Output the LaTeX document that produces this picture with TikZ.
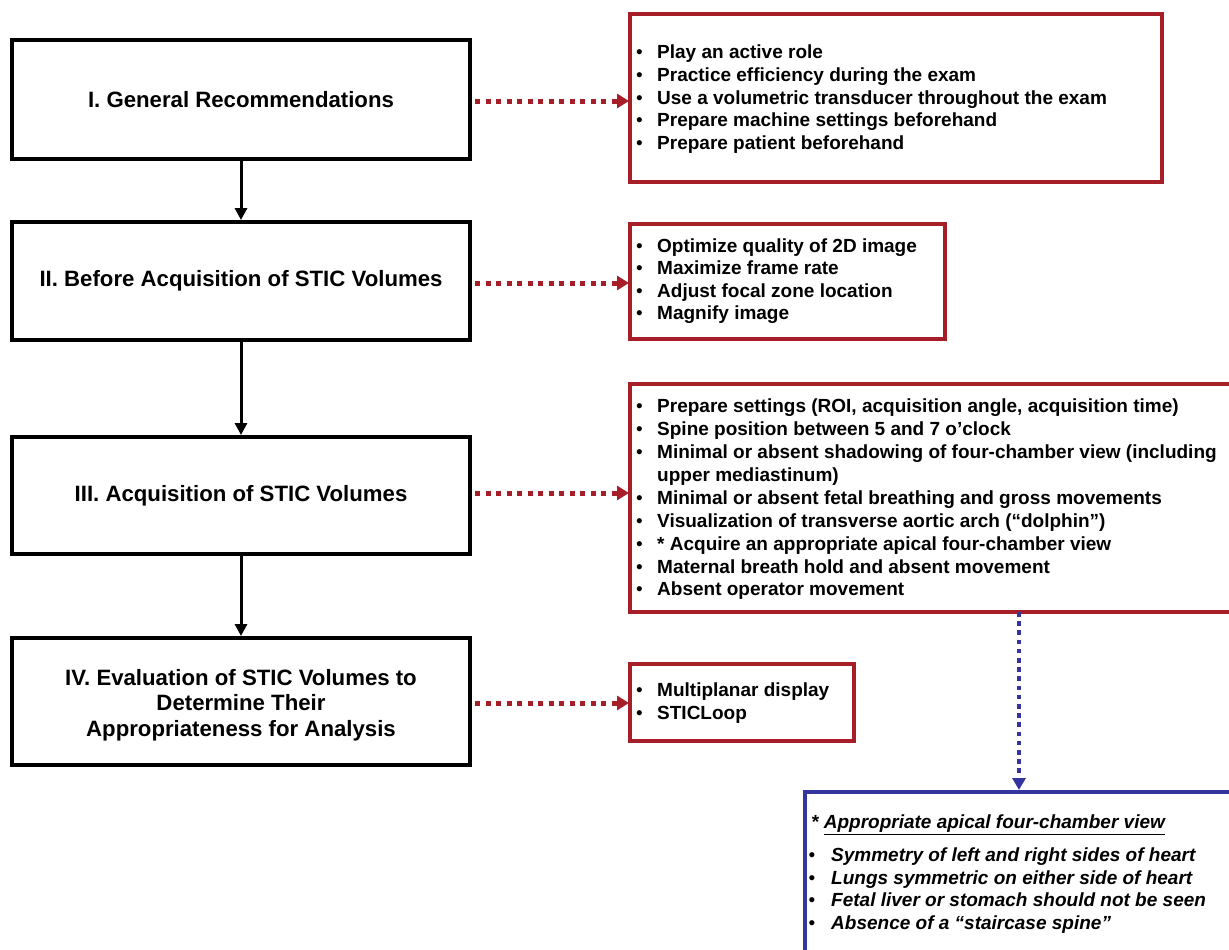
\documentclass[tikz,border=0pt]{standalone}
\usepackage{fontspec}
\setmainfont{Liberation Sans}
\usetikzlibrary{arrows.meta}
\definecolor{boxred}{HTML}{A61E28}
\definecolor{boxblue}{HTML}{3535A0}
\newcommand{\bul}{\makebox[21pt][l]{\textmd{•}}}
\newcommand{\bulb}{\makebox[22.5pt][l]{\textmd{\upshape •}}}
\tikzset{
  stage/.style={draw=black, line width=4pt, minimum width=458pt, inner sep=0pt,
    font=\fontsize{22.2}{25.5}\selectfont\bfseries, align=center},
  redbox/.style={draw=boxred, line width=4pt, anchor=north west, inner sep=0pt},
  bluebox/.style={draw=boxblue, line width=4pt, anchor=north west, inner sep=0pt},
  listtext/.style={anchor=north west, inner sep=0pt, align=left},
  flow/.style={line width=3pt, -{Triangle[length=12pt,width=12pt]}},
  reddots/.style={draw=boxred, line width=5pt, dash pattern=on 5pt off 5.5pt,
    -{Triangle[length=12pt,width=14pt]}, shorten >=-1pt},
  bluedots/.style={draw=boxblue, line width=4.5pt, dash pattern=on 4.5pt off 4.7pt,
    -{Triangle[length=12pt,width=13pt]}},
}
\begin{document}
\begin{tikzpicture}[x=1pt,y=-1pt]
\clip (0,0) rectangle (1229,950);
\fill[white] (0,0) rectangle (1229,950);

% stage boxes
\node[stage, minimum height=118pt] (s1) at (241,99.5) {I. General Recommendations};
\node[stage, minimum height=118pt] (s2) at (241,281) {II. Before Acquisition of STIC Volumes};
\node[stage, minimum height=117pt] (s3) at (241,495.5) {III. Acquisition of STIC Volumes};
\node[stage, minimum height=127pt] (s4) at (241,701.5) {};
\node[anchor=center, inner sep=0pt, align=center,
  font=\fontsize{22.2}{25.5}\selectfont\bfseries] (s4t) at (241,705)
  {IV. Evaluation of STIC Volumes to\\Determine Their\\Appropriateness for Analysis};

% red boxes
\node[redbox, minimum width=532pt, minimum height=168pt] (r1) at (628,12) {};
\node[redbox, minimum width=315pt, minimum height=115pt] (r2) at (628,222) {};
\node[redbox, minimum width=620pt, minimum height=228pt] (r3) at (628,382) {};
\node[redbox, minimum width=224pt, minimum height=77pt] (r4) at (628,662) {};
\node[bluebox, minimum width=440pt, minimum height=180pt] (b1) at (803,790) {};

% list texts
\node[listtext, font=\fontsize{19}{22.75}\selectfont\bfseries] (t1) at (636,42.5) {%
\begin{tabular}{@{}l@{}}
\bul Play an active role\\
\bul Practice efficiency during the exam\\
\bul Use a volumetric transducer throughout the exam\\
\bul Prepare machine settings beforehand\\
\bul Prepare patient beforehand
\end{tabular}};

\node[listtext, font=\fontsize{19}{22.4}\selectfont\bfseries] (t2) at (636,236.5) {%
\begin{tabular}{@{}l@{}}
\bul Optimize quality of 2D image\\
\bul Maximize frame rate\\
\bul Adjust focal zone location\\
\bul Magnify image
\end{tabular}};

\node[listtext, font=\fontsize{19}{22.9}\selectfont\bfseries] (t3) at (636,396.5) {%
\begin{tabular}{@{}l@{}}
\bul Prepare settings (ROI, acquisition angle, acquisition time)\\
\bul Spine position between 5 and 7 o’clock\\
\bul Minimal or absent shadowing of four-chamber view (including\\
\makebox[21pt]{}upper mediastinum)\\
\bul Minimal or absent fetal breathing and gross movements\\
\bul Visualization of transverse aortic arch (“dolphin”)\\
\bul * Acquire an appropriate apical four-chamber view\\
\bul Maternal breath hold and absent movement\\
\bul Absent operator movement
\end{tabular}};

\node[listtext, font=\fontsize{19}{23}\selectfont\bfseries] (t4) at (636,680.5) {%
\begin{tabular}{@{}l@{}}
\bul Multiplanar display\\
\bul STICLoop
\end{tabular}};

\node[listtext, font=\fontsize{19}{22.7}\selectfont\bfseries\itshape] (th) at (811,812.5) {%
\begin{tabular}{@{}l@{}}
* \underline{Appropriate apical four-chamber view}
\end{tabular}};
\node[listtext, font=\fontsize{19}{22.7}\selectfont\bfseries\itshape] (tb) at (808.5,845.5) {%
\begin{tabular}{@{}l@{}}
\bulb Symmetry of left and right sides of heart\\
\bulb Lungs symmetric on either side of heart\\
\bulb Fetal liver or stomach should not be seen\\
\bulb Absence of a “staircase spine”
\end{tabular}};

% flow arrows
\draw[flow] (s1.south) -- (s2.north);
\draw[flow] (s2.south) -- (s3.north);
\draw[flow] (s3.south) -- (s4.north);

% dotted arrows
\draw[reddots] ([xshift=3pt,yshift=-1.5pt]s1.east) -- ([yshift=-1.5pt]s1.east -| r1.west);
\draw[reddots] ([xshift=3pt,yshift=-2pt]s2.east) -- ([yshift=-2pt]s2.east -| r2.west);
\draw[reddots] ([xshift=3pt,yshift=2.5pt]s3.east) -- ([yshift=2.5pt]s3.east -| r3.west);
\draw[reddots] ([xshift=3pt,yshift=-1.5pt]s4.east) -- ([yshift=-1.5pt]s4.east -| r4.west);
\draw[bluedots] ([xshift=79pt,yshift=2pt]r3.south) -- ([xshift=-6pt]b1.north);
\end{tikzpicture}
\end{document}
